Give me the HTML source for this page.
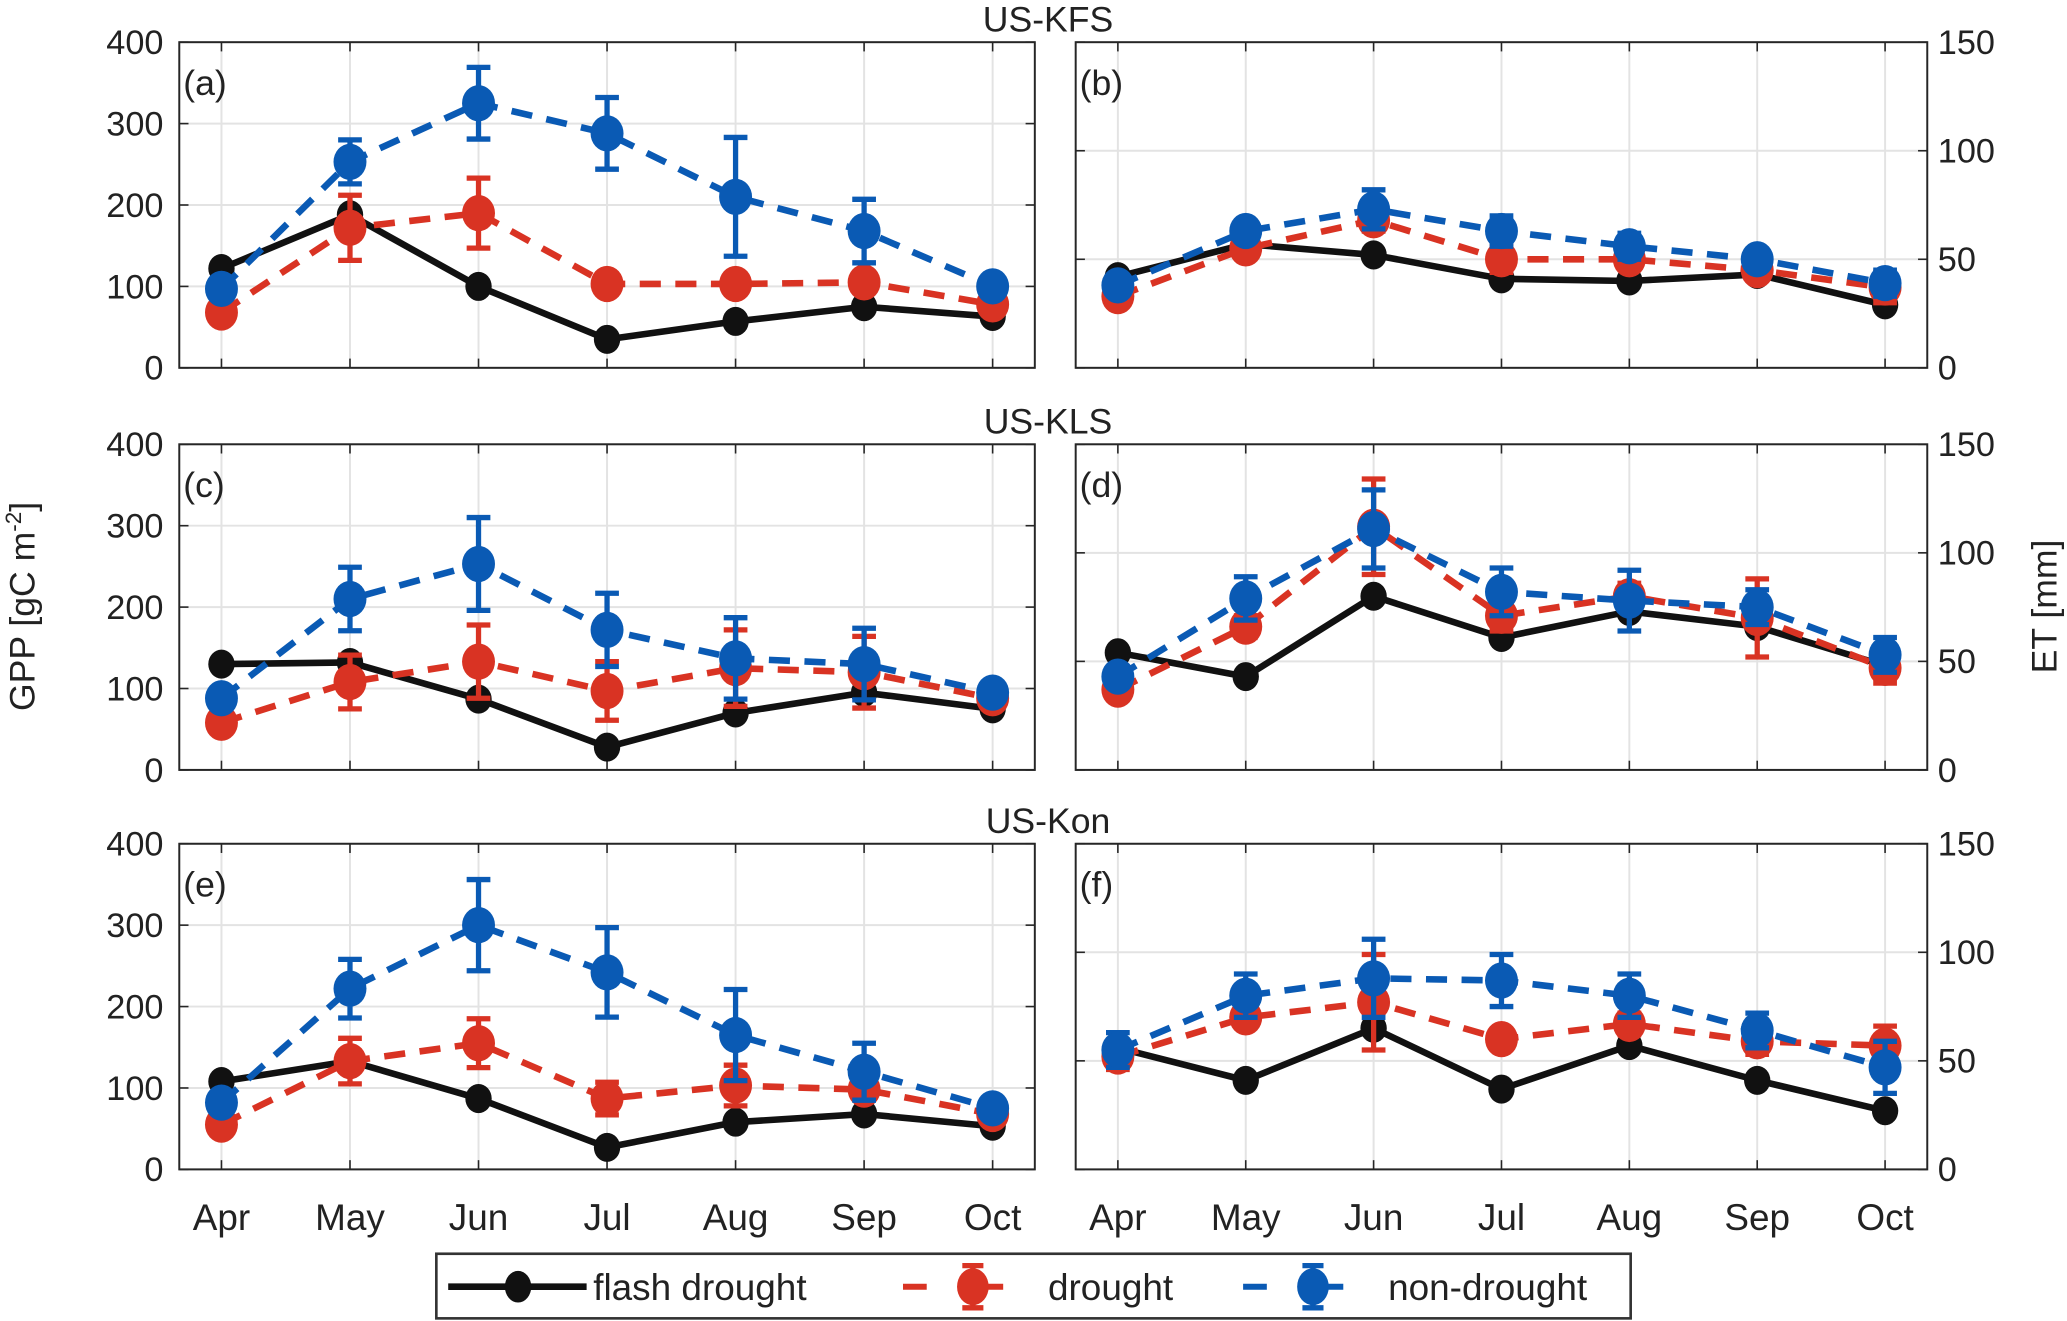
<!DOCTYPE html>
<html><head><meta charset="utf-8"><style>
html,body{margin:0;padding:0;background:#fff;}
svg{display:block;}
text{font-family:"Liberation Sans Narrow","Liberation Sans",sans-serif;fill:#222;}
</style></head><body>
<svg id="chart" width="2067" height="1321" viewBox="0 0 1568 1002" preserveAspectRatio="none" xmlns="http://www.w3.org/2000/svg"></svg>
<script>
const months = ["Apr","May","Jun","Jul","Aug","Sep","Oct"];
const sites = ["US-KFS","US-KLS","US-Kon"];
const gppTicks = [0,100,200,300,400];
const etTicks = [0,50,100,150];
// GPP panels (a),(c),(e)
const gppFlash = [[122,188,100,35,57,75,63],[130,132,87,28,70,95,75],[108,133,87,27,58,68,53]];
const gppDrought = [[68,172,190,103,103,105,78],[58,108,133,97,125,120,88],[55,133,155,87,103,98,68]];
const gppDroughtErr = [[8,40,43,8,8,10,8],[8,33,45,36,47,44,8],[8,28,30,20,25,10,8]];
const gppNon = [[97,253,325,288,210,168,100],[88,210,253,172,137,130,95],[82,222,300,242,165,120,75]];
const gppNonErr = [[8,27,44,44,73,39,8],[8,39,57,45,50,44,8],[8,36,56,55,56,35,8]];
// ET panels (b),(d),(f)
const etFlash = [[42,57,52,41,40,43,29],[54,43,80,61,73,66,48],[56,41,65,37,57,41,27]];
const etDrought = [[33,55,68,50,50,45,37],[37,66,112,71,80,70,47],[52,70,77,60,67,59,57]];
const etDroughtErr = [[3,4,5,6,4,4,7],[4,5,22,7,6,18,7],[6,4,22,3,5,6,9]];
const etNon = [[38,63,73,63,56,50,39],[43,79,111,82,78,75,53],[55,80,88,87,80,64,47]];
const etNonErr = [[3,4,9,7,6,4,6],[4,10,18,11,14,8,8],[8,10,18,12,10,8,12]];

const svg = document.getElementById('chart');
const NS = "http://www.w3.org/2000/svg";
function mk(tag, attrs, parent){const e=document.createElementNS(NS,tag);for(const k in attrs)e.setAttribute(k,attrs[k]);(parent||svg).appendChild(e);return e;}

const rowTop = [32,337,640], ph = 247;
const cols = [{x0:136,x1:785},{x0:816,x1:1462}];
const labels = [["(a)","(b)"],["(c)","(d)"],["(e)","(f)"]];

function drawPanel(r,c){
  const {x0,x1}=cols[c]; const y0=rowTop[r], y1=y0+ph;
  const g=mk('g',{});
  
  
  const xs=i=>x0+32+i*(x1-x0-64)/6;
  const ymax=c===0?400:150; const ticks=c===0?gppTicks:etTicks;
  const ys=v=>y1-v/ymax*ph;
  ticks.forEach(t=>{const l=mk('line',{x1:x0,x2:x1,y1:ys(t),y2:ys(t),stroke:'#e3e3e3','stroke-width':1.5},g);
    });
  months.forEach((m,i)=>{mk('line',{x1:xs(i),x2:xs(i),y1:y0,y2:y1,stroke:'#e3e3e3','stroke-width':1.5},g);});
  const box=mk('rect',{x:x0,y:y0,width:x1-x0,height:ph,fill:'none',stroke:'#262626','stroke-width':1.5},g);
  
  months.forEach((m,i)=>{mk('line',{x1:xs(i),x2:xs(i),y1:y1,y2:y1-7,stroke:'#262626','stroke-width':1.2},g);mk('line',{x1:xs(i),x2:xs(i),y1:y0,y2:y0+7,stroke:'#262626','stroke-width':1.2},g);});
  ticks.forEach(t=>{
    mk('line',{x1:x0,x2:x0+7,y1:ys(t),y2:ys(t),stroke:'#262626','stroke-width':1.2},g);
    mk('line',{x1:x1,x2:x1-7,y1:ys(t),y2:ys(t),stroke:'#262626','stroke-width':1.2},g);
    if(c===0){const tx=mk('text',{x:x0-12,y:ys(t)+9,'text-anchor':'end','font-size':26},g);tx.textContent=t;
      }
    else{const tx=mk('text',{x:x1+8,y:ys(t)+9,'text-anchor':'start','font-size':26},g);tx.textContent=t;
      }
  });
  if(r===2){months.forEach((m,i)=>{const tx=mk('text',{x:xs(i),y:y1+46,'text-anchor':'middle','font-size':28},g);tx.textContent=m;
    });}
  const lb=mk('text',{x:x0+3,y:y0+40,'font-size':27},g);lb.textContent=labels[r][c];
  
  const F=c===0?gppFlash[r]:etFlash[r], D=c===0?gppDrought[r]:etDrought[r], DE=c===0?gppDroughtErr[r]:etDroughtErr[r];
  const N=c===0?gppNon[r]:etNon[r], NE=c===0?gppNonErr[r]:etNonErr[r];
  function series(vals,errs,color,dash,w,rad,name){
    const sg=mk('g',{},g);
    
    const pts=vals.map((v,i)=>xs(i)+','+ys(v)).join(' ');
    const pl=mk('polyline',{points:pts,fill:'none',stroke:color,'stroke-width':w,'stroke-dasharray':dash||'none','stroke-linejoin':'round'},sg);
    
    vals.forEach((v,i)=>{
      if(errs){const e=errs[i];
        mk('line',{x1:xs(i),x2:xs(i),y1:ys(v-e),y2:ys(v+e),stroke:color,'stroke-width':4},sg);
        mk('line',{x1:xs(i)-9,x2:xs(i)+9,y1:ys(v-e),y2:ys(v-e),stroke:color,'stroke-width':4},sg);
        mk('line',{x1:xs(i)-9,x2:xs(i)+9,y1:ys(v+e),y2:ys(v+e),stroke:color,'stroke-width':4},sg);}
      const p=mk('ellipse',{cx:xs(i),cy:ys(v),rx:rad,ry:rad*1.1,fill:color},sg);
      
    });
  }
  series(F,null,'#111','',5,10,'flash-drought');
  series(D,DE,'#d93323','16 11',5,12.5,'drought');
  series(N,NE,'#0a5ab4','16 11',5,12.5,'non-drought');
}
for(let r=0;r<3;r++){for(let c=0;c<2;c++)drawPanel(r,c);
  const t=mk('text',{x:795,y:rowTop[r]-8,'text-anchor':'middle','font-size':27});t.textContent=sites[r];
  }
const yl=mk('text',{x:0,y:0,'text-anchor':'middle','font-size':27,transform:'translate(26,460) rotate(-90)'});
yl.innerHTML='GPP  [gC m<tspan font-size="17" dy="-10">-2</tspan><tspan dy="10">]</tspan>';

const yr=mk('text',{x:0,y:0,'text-anchor':'middle','font-size':27,transform:'translate(1560,460) rotate(-90)'});
yr.textContent='ET  [mm]';

const lg=mk('g',{});

mk('rect',{x:331,y:951,width:906,height:49,fill:'#fff',stroke:'#333','stroke-width':2},lg);
function lentry(x,color,dash,bar,label,name){
  const e=mk('g',{},lg);
  
  mk('line',{x1:x,x2:x+105,y1:976,y2:976,stroke:color,'stroke-width':bar?5:4.5,'stroke-dasharray':dash||'none'},e);
  if(!bar){mk('rect',{x:x+42,y:962,width:22,height:28,fill:'#fff'},e);
    mk('line',{x1:x+53,x2:x+53,y1:960,y2:992,stroke:color,'stroke-width':4},e);
    mk('line',{x1:x+45,x2:x+61,y1:960,y2:960,stroke:color,'stroke-width':4},e);
    mk('line',{x1:x+45,x2:x+61,y1:992,y2:992,stroke:color,'stroke-width':4},e);}
  mk('ellipse',{cx:x+53,cy:976,rx:bar?10:12,ry:bar?12:14,fill:color},e);
  const t=mk('text',{x:x+110,y:986,'font-size':28},e);t.textContent=label;
}
lentry(340,'#111','',true,'flash drought','legend-flash-drought');
lentry(685,'#d93323','18 40',false,'drought','legend-drought');
lentry(943,'#0a5ab4','18 40',false,'non-drought','legend-non-drought');
</script>
</body></html>
